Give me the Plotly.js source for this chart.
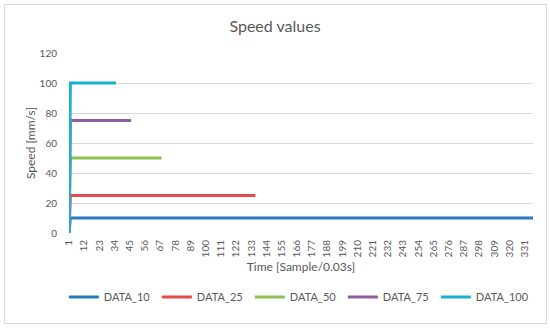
<!DOCTYPE html>
<html>
<head>
<meta charset="utf-8">
<script src="https://cdn.plot.ly/plotly-3.0.1.min.js"></script>
<style>
html,body{margin:0;padding:0;background:#fff;}
#wrap{position:relative;width:550px;height:328px;}
#chart{width:550px;height:328px;}
#frame{position:absolute;left:4px;top:4px;width:541px;height:318px;border:1px solid #D9D9D9;pointer-events:none;}
</style>
</head>
<body>
<div id="wrap"><div id="chart"></div><div id="frame"></div></div>
<script>
// Series as step points: [sample index], [speed]
const seriesNames = ["DATA_10", "DATA_25", "DATA_50", "DATA_75", "DATA_100"];
const data10_x = [1, 2, 337];
const data10_y = [0, 10, 10];
const data25_x = [1, 2, 136];
const data25_y = [0, 25, 25];
const data50_x = [1, 2, 68];
const data50_y = [0, 50, 50];
const data75_x = [1, 2, 46];
const data75_y = [0, 75, 75];
const data100_x = [1, 2, 35];
const data100_y = [0, 100, 100];
const xTickVals = [1,12,23,34,45,56,67,78,89,100,111,122,133,144,155,166,177,188,199,210,221,232,243,254,265,276,287,298,309,320,331];
const yTickVals = [0,20,40,60,80,100,120];

const colors = ["#2B7BBF", "#E64A4A", "#8CC152", "#8E5EA2", "#17B2CF"];
const xs = [data10_x, data25_x, data50_x, data75_x, data100_x];
const ys = [data10_y, data25_y, data50_y, data75_y, data100_y];

const traces = seriesNames.map((n, i) => ({
  type: "scatter", mode: "lines", name: n,
  x: xs[i], y: ys[i],
  line: {color: colors[i], width: 3}
}));

const font = "Lato, 'Open Sans', sans-serif";
const layout = {
  width: 550, height: 328,
  margin: {l: 69, r: 17, t: 53, b: 95},
  paper_bgcolor: "#fff", plot_bgcolor: "#fff",
  font: {family: font, color: "#595959", size: 10},
  title: {text: "Speed values", font: {size: 16, color: "#595959", family: font}, x: 0.5, xanchor: "center", y: 0.92, yanchor: "middle", xref: "container", yref: "container"},
  showlegend: true,
  legend: {orientation: "h", x: 0.49, xanchor: "center", y: -0.355, yanchor: "middle", font: {size: 11, color: "#595959"}, traceorder: "normal", entrywidth: 48, entrywidthmode: "pixels"},
  xaxis: {
    range: [1, 337], tickmode: "array", tickvals: xTickVals, ticktext: xTickVals.map(String),
    tickangle: -90, showgrid: false, zeroline: false, showline: false, ticks: "",
    ticklabelstandoff: 4,
    tickfont: {size: 10, color: "#595959"},
    title: {text: "Time [Sample/0.03s]", font: {size: 12, color: "#595959"}, standoff: 6}
  },
  yaxis: {
    range: [0, 120], tickmode: "array", tickvals: yTickVals,
    showgrid: true, gridcolor: "#D9D9D9", gridwidth: 1, zeroline: false, showline: false, ticks: "",
    ticklabelstandoff: 11,
    tickfont: {size: 10, color: "#595959"},
    title: {text: "Speed [mm/s]", font: {size: 12, color: "#595959"}, standoff: 1}
  }
};
Plotly.newPlot("chart", traces, layout, {displayModeBar: false, staticPlot: true});
</script>
</body>
</html>
